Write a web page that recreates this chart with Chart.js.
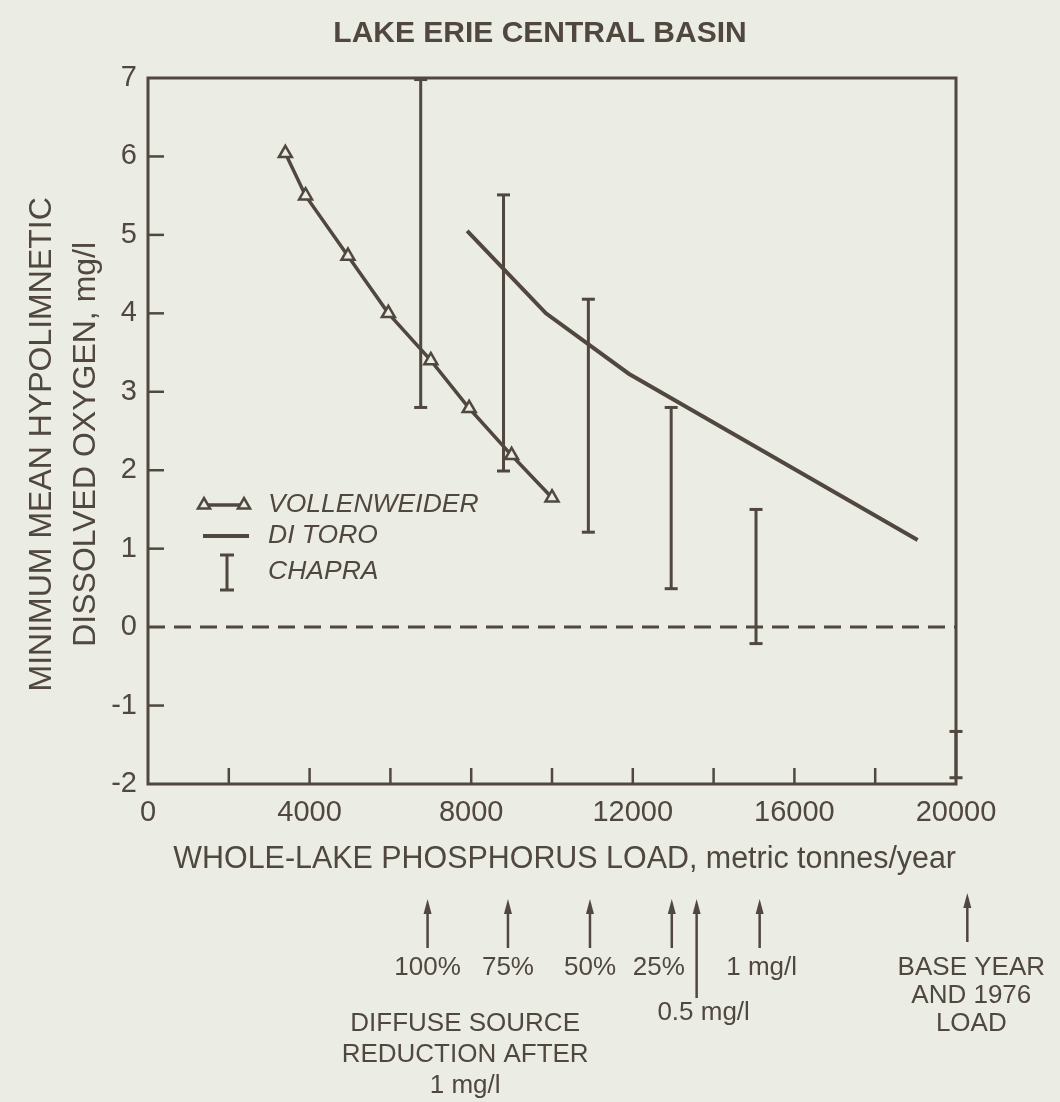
<!DOCTYPE html>
<html>
<head>
<meta charset="utf-8">
<script src="https://cdn.jsdelivr.net/npm/chart.js@4.4.1/dist/chart.umd.min.js"></script>
<style>
  html, body { margin: 0; padding: 0; background: #ebede5; }
  #wrap { position: relative; width: 1060px; height: 1102px; }
</style>
</head>
<body>
<div id="wrap"><canvas id="chart" width="1060" height="1102"></canvas></div>
<script>
// ---------------- data ----------------
const vollenweiderLoad = [3400, 3900, 4950, 5950, 7000, 7950, 9000, 10000];
const vollenweiderDO   = [6.04, 5.50, 4.73, 4.00, 3.40, 2.79, 2.19, 1.65];

const ditoroLoad = [7900, 9850, 11900, 19050];
const ditoroDO   = [5.05, 4.00, 3.23, 1.11];

const chapraLoad = [6750, 8800, 10900, 12950, 15050, 20000];
const chapraLow  = [2.80, 1.99, 1.21, 0.49, -0.21, -1.92];
const chapraHigh = [6.98, 5.51, 4.18, 2.80, 1.50, -1.33];

const xTickLabels = ['0', '4000', '8000', '12000', '16000', '20000'];
const yTickLabels = ['-2', '-1', '0', '1', '2', '3', '4', '5', '6', '7'];

const seriesNames = ['VOLLENWEIDER', 'DI TORO', 'CHAPRA'];

const arrowLoad   = [6920, 8910, 10940, 12965, 13580, 15140, 20280];
const arrowLabels = [['100%'], ['75%'], ['50%'], ['25%'], ['0.5 mg/l'], ['1 mg/l'], ['BASE YEAR', 'AND 1976', 'LOAD']];
const noteLines   = ['DIFFUSE SOURCE', 'REDUCTION AFTER', '1 mg/l'];
const noteLoad    = 7850;

// ---------------- style ----------------
const INK = '#50473f';
const BG = '#ebede5';
const FONT = "'Liberation Sans', Arial, Helvetica, sans-serif";

const pts = (xs, ys) => xs.map((x, i) => ({ x: x, y: ys[i] }));
const chapraData = [];
chapraLoad.forEach((x, i) => {
  chapraData.push({ x: x, y: chapraLow[i] });
  chapraData.push({ x: x, y: chapraHigh[i] });
  chapraData.push({ x: x, y: null });
});

const decor = {
  id: 'decor',
  beforeDraw(chart) {
    const ctx = chart.ctx;
    ctx.save();
    ctx.fillStyle = BG;
    ctx.fillRect(0, 0, chart.width, chart.height);
    ctx.restore();
  },
  beforeDatasetsDraw(chart) {
    const { ctx, chartArea: ca, scales } = chart;
    ctx.save();
    ctx.strokeStyle = INK;
    ctx.lineWidth = 3;
    ctx.strokeRect(ca.left, ca.top, ca.right - ca.left, ca.bottom - ca.top);
    ctx.lineWidth = 2.5;
    scales.x.ticks.forEach(t => {
      if (t.value <= scales.x.min || t.value >= scales.x.max) return;
      const px = scales.x.getPixelForValue(t.value);
      ctx.beginPath(); ctx.moveTo(px, ca.bottom); ctx.lineTo(px, ca.bottom - 16); ctx.stroke();
    });
    scales.y.ticks.forEach(t => {
      if (t.value <= scales.y.min || t.value >= scales.y.max || t.value === 0) return;
      const py = scales.y.getPixelForValue(t.value);
      ctx.beginPath(); ctx.moveTo(ca.left, py); ctx.lineTo(ca.left + 16, py); ctx.stroke();
    });
    ctx.restore();
  },
  afterDraw(chart) {
    const { ctx, scales } = chart;
    const x = scales.x;
    ctx.save();
    ctx.strokeStyle = INK; ctx.fillStyle = INK;

    // legend
    const lx = 204, ly = [505, 536, 572];
    ctx.lineWidth = 3.5;
    ctx.beginPath(); ctx.moveTo(lx, ly[0]); ctx.lineTo(lx + 40, ly[0]); ctx.stroke();
    ctx.fillStyle = BG;
    [lx, lx + 40].forEach(px => {
      const r = 7;
      ctx.beginPath();
      ctx.moveTo(px, ly[0] - r); ctx.lineTo(px - r * 0.866, ly[0] + r * 0.5); ctx.lineTo(px + r * 0.866, ly[0] + r * 0.5); ctx.closePath();
      ctx.fill(); ctx.lineWidth = 2.5; ctx.stroke();
    });
    ctx.fillStyle = INK;
    ctx.lineWidth = 4;
    ctx.beginPath(); ctx.moveTo(lx - 1, ly[1]); ctx.lineTo(lx + 45, ly[1]); ctx.stroke();
    ctx.lineWidth = 3;
    const cx = lx + 23;
    ctx.beginPath(); ctx.moveTo(cx, ly[2] - 17); ctx.lineTo(cx, ly[2] + 18); ctx.stroke();
    ctx.beginPath(); ctx.moveTo(cx - 7, ly[2] - 17); ctx.lineTo(cx + 7, ly[2] - 17);
    ctx.moveTo(cx - 7, ly[2] + 18); ctx.lineTo(cx + 7, ly[2] + 18); ctx.stroke();
    ctx.font = 'italic 26.5px ' + FONT;
    ctx.textAlign = 'left'; ctx.textBaseline = 'middle';
    seriesNames.forEach((n, i) => ctx.fillText(n, 268, ly[i]));

    // arrows below the axis
    const arrowTop = 899, arrowBottom = 948;
    ctx.lineWidth = 2.5;
    arrowLoad.forEach((v, i) => {
      const px = x.getPixelForValue(v);
      const label = arrowLabels[i];
      const isBase = label.length > 1;
      const top = isBase ? arrowTop - 6 : arrowTop;
      let bottom = isBase ? arrowBottom - 6 : arrowBottom;
      if (label[0] === '0.5 mg/l') bottom = 998;
      ctx.beginPath(); ctx.moveTo(px, top + 10); ctx.lineTo(px, bottom); ctx.stroke();
      ctx.beginPath(); ctx.moveTo(px, top); ctx.lineTo(px - 4, top + 15); ctx.lineTo(px + 4, top + 15); ctx.closePath(); ctx.fill();
    });
    ctx.font = '26px ' + FONT;
    ctx.textAlign = 'center'; ctx.textBaseline = 'middle';
    const dx = { '25%': -13, '0.5 mg/l': 7, '1 mg/l': 2, 'BASE YEAR': 4 };
    arrowLabels.forEach((label, i) => {
      const px = x.getPixelForValue(arrowLoad[i]);
      const off = dx[label[0]] || 0;
      let y0 = 968;
      if (label[0] === '0.5 mg/l') y0 = 1013;
      label.forEach((t, k) => ctx.fillText(t, px + off, y0 + k * 28));
    });
    const nx = x.getPixelForValue(noteLoad);
    noteLines.forEach((t, k) => ctx.fillText(t, nx, 1024 + k * 31));
    ctx.restore();
  }
};

const chart = new Chart(document.getElementById('chart'), {
  type: 'scatter',
  data: {
    datasets: [
      {
        label: seriesNames[0],
        data: pts(vollenweiderLoad, vollenweiderDO),
        showLine: true,
        borderColor: INK, borderWidth: 3.5,
        pointStyle: 'triangle', pointRadius: 7.5, pointBorderWidth: 2.5,
        pointBackgroundColor: BG, pointBorderColor: INK,
        clip: false, order: 1
      },
      {
        label: seriesNames[1],
        data: pts(ditoroLoad, ditoroDO),
        showLine: true,
        borderColor: INK, borderWidth: 4,
        pointRadius: 0,
        clip: false, order: 2
      },
      {
        label: seriesNames[2],
        data: chapraData,
        showLine: true, spanGaps: false,
        borderColor: INK, borderWidth: 3,
        pointStyle: 'line', pointRadius: 6.5, pointBorderWidth: 3, pointBorderColor: INK,
        clip: false, order: 3
      },
      {
        label: 'zero',
        data: [{ x: 0, y: 0 }, { x: 20000, y: 0 }],
        showLine: true,
        borderColor: INK, borderWidth: 3, borderDash: [17, 9],
        pointRadius: 0,
        clip: false, order: 4
      }
    ]
  },
  options: {
    responsive: false,
    animation: false,
    devicePixelRatio: 1,
    layout: { padding: { left: 20, right: 0, top: 0, bottom: 218 } },
    plugins: {
      legend: { display: false },
      tooltip: { enabled: false },
      title: {
        display: true,
        text: 'LAKE ERIE CENTRAL BASIN',
        color: INK,
        font: { size: 30, weight: 'bold', family: FONT, lineHeight: 1.2 },
        padding: { top: 16, bottom: 26 }
      }
    },
    scales: {
      x: {
        type: 'linear', position: 'bottom',
        min: 0, max: 20000,
        grid: { display: false, drawTicks: false },
        border: { display: false },
        afterFit: s => { s.height = 100; },
        ticks: {
          stepSize: 2000, padding: 12, color: INK, maxRotation: 0, autoSkip: false,
          font: { size: 29, family: FONT },
          callback: v => xTickLabels.includes(String(v)) ? String(v) : ''
        },
        title: {
          display: true, text: '   WHOLE-LAKE PHOSPHORUS LOAD, metric tonnes/year',
          color: INK, font: { size: 31, family: FONT, lineHeight: 1.2 },
          padding: { top: 0, bottom: 6 }
        }
      },
      y: {
        type: 'linear', position: 'left',
        min: -2, max: 7,
        grid: { display: false, drawTicks: false },
        border: { display: false },
        afterFit: s => { s.width = 128; },
        ticks: {
          stepSize: 1, padding: 11, color: INK,
          font: { size: 29, family: FONT },
          callback: v => yTickLabels.includes(String(v)) ? String(v) : ''
        },
        title: {
          display: true, text: ['MINIMUM MEAN HYPOLIMNETIC   ', 'DISSOLVED OXYGEN, mg/l   '],
          color: INK, font: { size: 32, family: FONT, lineHeight: 1.375 },
          padding: { top: 0, bottom: 0 }
        }
      },
      yRight: {
        type: 'linear', position: 'right', display: true,
        grid: { display: false, drawTicks: false },
        border: { display: false },
        ticks: { display: false },
        afterFit: s => { s.width = 104; }
      }
    }
  },
  plugins: [decor]
});
</script>
</body>
</html>
